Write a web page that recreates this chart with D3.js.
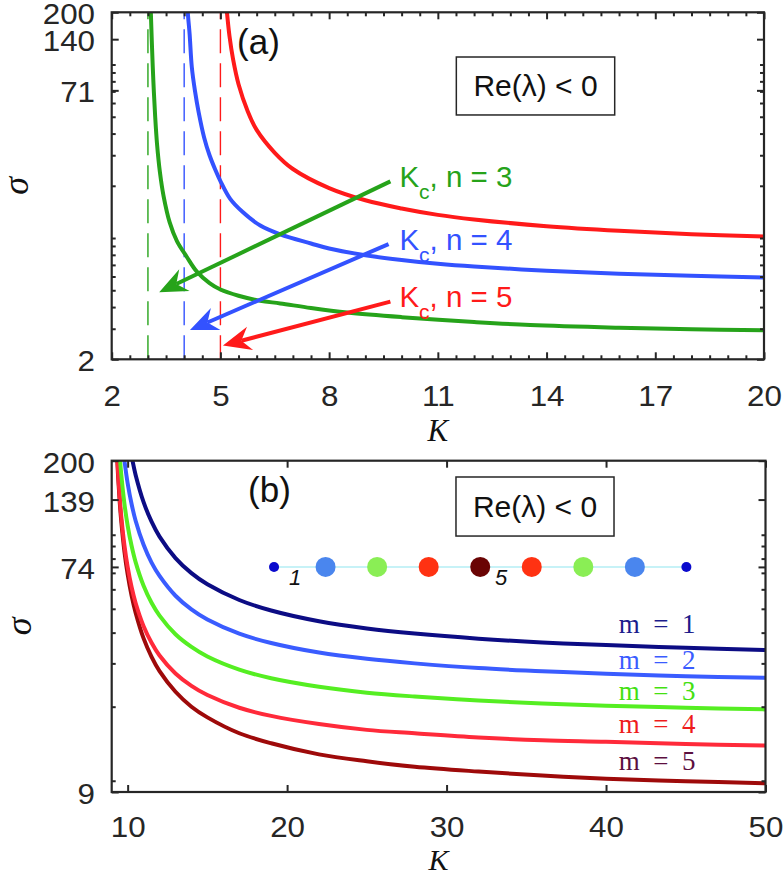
<!DOCTYPE html>
<html><head><meta charset="utf-8">
<script src="https://cdn.jsdelivr.net/npm/d3@7"></script>
<style>
body{margin:0;background:#fff;}
svg{display:block;background:#fff;}
</style></head><body>
<svg id="chart" width="783" height="877"></svg>
<script>
// ---------------- Panel (a) data ----------------
const aXTicks = [2,5,8,11,14,17,20];
const aXMinor = d3.range(2.5,20,0.5).filter(v=>!aXTicks.includes(v));
const aYTicks = [2,71,140,200];
const aYMinor = [3,4,5,6,7,8,9,10,20,30,40,50,60,70,80,90,100];
const aKc = [3,4,5];
const aLabels = ["n = 3","n = 4","n = 5"];
const aK_n3 = [3.06,3.08,3.11,3.15,3.2,3.25,3.33,3.43,3.6,3.8,4.07,4.35,4.7,5.0,5.5,6.1,6.65,7.5,8.5,10,12,13.55,16,18,20];
const aS_n3 = [260,200,130,80,50,35,24,17.5,12.3,9.6,7.8,6.4,5.5,5.05,4.65,4.35,4.2,3.95,3.72,3.5,3.28,3.15,3.04,2.98,2.94];
const aK_n4 = [4.08,4.1,4.15,4.21,4.3,4.4,4.55,4.7,4.85,5.0,5.27,5.6,6.1,6.65,7.5,8,9,10,11,12,14,16,18,20];
const aS_n4 = [260,200,150,97,70,53,38,30,25,21.3,16.8,14.2,11.8,10.5,9.3,8.7,7.96,7.47,7.11,6.85,6.48,6.23,6.06,5.93];
const aK_n5 = [5.16,5.18,5.25,5.35,5.5,5.75,6.0,6.5,7.0,8.0,9.0,10,11,12,14,16,18,20];
const aS_n5 = [225,200,146,107,77,54,42,31,25,19.4,16.5,14.8,13.6,12.8,11.7,11.0,10.5,10.2];
// arrows: [tailK, tailSigma, tipK, tipSigma]
const aArrows = [[9.69,21.2,3.31,4.87],[9.64,9.23,4.16,2.95],[9.69,4.3,5.07,2.4]];
const aLabelPos = [[9.94,19.7],[9.94,8.53],[9.94,4.0]];
const aColors = ["#26a31a","#3352ff","#ff1a1a"];

// ---------------- Panel (b) data ----------------
const bXTicks = [10,20,30,40,50];
const bYTicks = [9,74,139,200];
const bYMinor = [10,20,30,40,50,60,70,80,90,100];
const bNames = ["m = 1","m = 2","m = 3","m = 4","m = 5"];
const bK_m1 = [10.2,10.3,10.5,11,11.5,12,13,14,15,17,19,22,25,28,32,36,40,45,50];
const bS_m1 = [216.8,200.5,175.1,135.7,113,98.3,80.4,69.8,62.9,54.3,49.2,44.5,41.6,39.65,37.8,36.5,35.6,34.7,34.0];
const bK_m2 = [9.7,9.8,10,10.25,10.5,11,11.5,12,13,14,15,17,19,22,25,28,32,36,40,45,50];
const bS_m2 = [227,200,162,133,114,91,77,68,56.5,49.7,45.2,39.6,36.3,33.2,31.3,30.0,28.7,27.9,27.2,26.6,26.2];
const bK_m3 = [9.5,9.6,9.8,10,10.25,10.5,11,11.5,12,13,14,15,17,19,22,25,28,32,36,40,45,50];
const bS_m3 = [211,176,133.5,109,90,77.4,62,52.9,46.9,39.4,35.0,32.0,28.3,26.1,24.1,22.8,22.0,21.2,20.6,20.2,19.8,19.5];
const bK_m4 = [9.3,9.4,9.5,9.6,9.8,10,10.25,10.5,11,11.5,12,13,14,15,17,19,22,25,28,32,36,40,45,50];
const bS_m4 = [246,180,142.5,118.8,90.5,74.1,61.2,52.8,42.5,36.4,32.3,27.3,24.3,22.3,19.8,18.35,17.0,16.1,15.6,15.0,14.6,14.4,14.1,13.9];
const bK_m5 = [9.3,9.4,9.5,9.6,9.8,10,10.25,10.5,11,11.5,12,13,14,15,17,19,22,25,28,32,36,40,45,50];
const bS_m5 = [239,173,136.6,113.3,85.3,69.1,56.4,48.2,37.9,31.9,27.9,23.0,20.0,18.1,15.6,14.2,12.8,12.0,11.4,10.9,10.5,10.2,9.96,9.77];
const bColors = ["#0c0c84","#3a5cff","#55ee22","#ff2a3a","#9e0a0a"];
const bLabelColors = ["#1c1c8c","#3a5cff","#44e011","#ee1c1c","#5c0f3f"];
const bLabelPos = [[43.2,39.7],[43.2,28.4],[43.2,21.3],[43.2,15.6],[43.2,11.07]];
// chain schematic
const chainNodes = [1,2,3,4,5,6,7,8,9];
const chainMode = [1,2,3,4,5,4,3,2,1];
const chainColors = {1:"#0a0acd",2:"#4a86ee",3:"#8aee55",4:"#ff3212",5:"#6a0404"};
const chainRange = [19.18,45.04];
const chainSigma = 74;

// ---------------- drawing ----------------
const svg = d3.select("#chart");
const AX = "#262626";
const SANS = "'Liberation Sans', Arial, Helvetica, sans-serif";
const SERIF = "'Liberation Serif', 'Times New Roman', serif";
const TICKFS = 29;

const pa = {left:111.7, right:764, top:12.3, bottom:359.3};
const pb = {left:111.7, right:765.5, top:460.7, bottom:792};
const xa = d3.scaleLinear().domain([2,20]).range([pa.left,pa.right]);
const ya = d3.scaleLog().domain([2,200]).range([pa.bottom,pa.top]);
const xb = d3.scaleLinear().domain([9,50]).range([pb.left,pb.right]);
const yb = d3.scaleLog().domain([9,200]).range([pb.bottom,pb.top]);

function clip(id, box){
  svg.append("clipPath").attr("id",id).append("rect")
    .attr("x",box.left).attr("y",box.top)
    .attr("width",box.right-box.left).attr("height",box.bottom-box.top);
}
clip("ca",pa); clip("cb",pb);

function styleAxis(g){
  g.select(".domain").remove();
  g.selectAll("line").attr("stroke",AX).attr("stroke-width",2);
  g.selectAll("text").attr("fill",AX).attr("font-size",TICKFS).attr("font-family",SANS)
    .attr("transform","scale(1.08,1)");
}

function frame(box, x, y, xMaj, xMin, yMaj, yMin, xPad, yPad){
  const g = svg.append("g");
  g.append("g").attr("transform",`translate(0,${box.bottom})`)
    .call(d3.axisBottom(x).tickValues(xMaj).tickSize(-7).tickSizeOuter(0).tickPadding(xPad).tickFormat(d3.format("d")))
    .call(styleAxis);
  g.append("g").attr("transform",`translate(0,${box.top})`)
    .call(d3.axisTop(x).tickValues(xMaj).tickSize(-7).tickSizeOuter(0).tickFormat(""))
    .call(styleAxis);
  if (xMin.length){
    g.append("g").attr("transform",`translate(0,${box.bottom})`)
      .call(d3.axisBottom(x).tickValues(xMin).tickSize(-4).tickSizeOuter(0).tickFormat(""))
      .call(styleAxis);
    g.append("g").attr("transform",`translate(0,${box.top})`)
      .call(d3.axisTop(x).tickValues(xMin).tickSize(-4).tickSizeOuter(0).tickFormat(""))
      .call(styleAxis);
  }
  const gl = g.append("g").attr("transform",`translate(${box.left},0)`)
    .call(d3.axisLeft(y).tickValues(yMaj).tickSize(-7).tickSizeOuter(0).tickPadding(yPad).tickFormat(d3.format("d")))
    .call(styleAxis);
  gl.selectAll("text").attr("dy","0.4em");
  g.append("g").attr("transform",`translate(${box.right},0)`)
    .call(d3.axisRight(y).tickValues(yMaj).tickSize(-7).tickSizeOuter(0).tickFormat(""))
    .call(styleAxis);
  g.append("g").attr("transform",`translate(${box.left},0)`)
    .call(d3.axisLeft(y).tickValues(yMin).tickSize(-4).tickSizeOuter(0).tickFormat(""))
    .call(styleAxis);
  g.append("g").attr("transform",`translate(${box.right},0)`)
    .call(d3.axisRight(y).tickValues(yMin).tickSize(-4).tickSizeOuter(0).tickFormat(""))
    .call(styleAxis);
  g.append("rect").attr("x",box.left).attr("y",box.top)
    .attr("width",box.right-box.left).attr("height",box.bottom-box.top)
    .attr("fill","none").attr("stroke",AX).attr("stroke-width",2.2);
}

function zip(a,b){ return a.map((v,i)=>[v,b[i]]); }

// ---------- Panel (a) ----------
const lineA = d3.line().x(d=>xa(d[0])).y(d=>ya(d[1])).curve(d3.curveCatmullRom.alpha(0.5));
const gA = svg.append("g").attr("clip-path","url(#ca)");
aKc.forEach((k,i)=>{
  gA.append("line").attr("x1",xa(k)).attr("x2",xa(k))
    .attr("y1",ya(2)).attr("y2",ya(200))
    .attr("stroke",aColors[i]).attr("stroke-width",1.4)
    .attr("stroke-dasharray","24,10");
});
[zip(aK_n3,aS_n3),zip(aK_n4,aS_n4),zip(aK_n5,aS_n5)].forEach((d,i)=>{
  gA.append("path").datum(d).attr("d",lineA).attr("fill","none")
    .attr("stroke",aColors[i]).attr("stroke-width",4).attr("stroke-linejoin","round");
});

function arrow(g, x0,y0,x1,y1,color){
  const dx=x1-x0, dy=y1-y0, len=Math.hypot(dx,dy), ux=dx/len, uy=dy/len, px=-uy, py=ux;
  const L=28, Wd=12, N=9;
  const bx=x1-L*ux, by=y1-L*uy, nx=x1-(L-N)*ux, ny=y1-(L-N)*uy;
  g.append("line").attr("x1",x0).attr("y1",y0).attr("x2",nx).attr("y2",ny)
    .attr("stroke",color).attr("stroke-width",4);
  g.append("path").attr("d",`M${x1},${y1}L${bx+Wd*px},${by+Wd*py}L${nx},${ny}L${bx-Wd*px},${by-Wd*py}Z`)
    .attr("fill",color);
}
const gAnn = svg.append("g");
aArrows.forEach((a,i)=>arrow(gAnn, xa(a[0]),ya(a[1]),xa(a[2]),ya(a[3]),aColors[i]));
aLabelPos.forEach((p,i)=>{
  const t = gAnn.append("text").attr("x",xa(p[0])).attr("y",ya(p[1]))
    .attr("font-family",SANS).attr("font-size",29.5).attr("fill",aColors[i]);
  t.append("tspan").text("K");
  t.append("tspan").attr("dy",12).attr("font-size",21).text("c");
  t.append("tspan").attr("dy",-12).text(", " + aLabels[i]);
});

function reBox(x,y,k0,k1,s0,s1){
  const x0=x(k0), x1=x(k1), y0=y(s0), y1=y(s1);
  svg.append("rect").attr("x",x0).attr("y",y0).attr("width",x1-x0).attr("height",y1-y0)
    .attr("fill","#fff").attr("stroke",AX).attr("stroke-width",1.5);
  svg.append("text").attr("x",(x0+x1)/2).attr("y",(y0+y1)/2+10)
    .attr("text-anchor","middle").attr("font-family",SANS).attr("font-size",30).attr("fill","#111")
    .text("Re(λ) < 0");
}
reBox(xa,ya,11.51,15.88,110.5,51.2);
svg.append("text").attr("x",xa(5.46)).attr("y",ya(115)).attr("font-family",SANS)
  .attr("font-size",35).attr("fill","#111").text("(a)");

frame(pa, xa, ya, aXTicks, aXMinor, aYTicks, aYMinor, 26, 15.5);

svg.append("text").attr("x",(pa.left+pa.right)/2).attr("y",441)
  .attr("text-anchor","middle").attr("font-family",SERIF).attr("font-style","italic")
  .attr("font-size",31).attr("fill","#111").text("K");
svg.append("text").attr("transform",`translate(28,${(pa.top+pa.bottom)/2}) rotate(-90)`)
  .attr("text-anchor","middle").attr("font-family",SERIF).attr("font-style","italic")
  .attr("font-size",36).attr("fill","#111").text("σ");

// ---------- Panel (b) ----------
const lineB = d3.line().x(d=>xb(d[0])).y(d=>yb(d[1])).curve(d3.curveCatmullRom.alpha(0.5));
const gB = svg.append("g").attr("clip-path","url(#cb)");
[zip(bK_m5,bS_m5),zip(bK_m4,bS_m4),zip(bK_m3,bS_m3),zip(bK_m2,bS_m2),zip(bK_m1,bS_m1)].forEach((d,j)=>{
  const i = 4-j;
  gB.append("path").datum(d).attr("d",lineB).attr("fill","none")
    .attr("stroke",bColors[i]).attr("stroke-width",4).attr("stroke-linejoin","round");
});
bLabelPos.forEach((p,i)=>{
  svg.append("text").attr("x",xb(p[0])).attr("y",yb(p[1]))
    .attr("text-anchor","middle").attr("font-family",SERIF).attr("font-size",27)
    .attr("fill",bLabelColors[i]).style("white-space","pre")
    .text(bNames[i].replace(" = ","  =  "));
});

reBox(xb,yb,30.59,40.5,171.7,98.8);
svg.append("text").attr("x",xb(17.55)).attr("y",yb(135.8)).attr("font-family",SANS)
  .attr("font-size",35).attr("fill","#111").text("(b)");

const cx = d3.scalePoint().domain(chainNodes).range(chainRange.map(xb));
const cy = yb(chainSigma);
svg.append("line").attr("x1",cx(1)).attr("x2",cx(9)).attr("y1",cy).attr("y2",cy)
  .attr("stroke","#b4eef4").attr("stroke-width",1.5);
svg.selectAll("circle.node").data(chainNodes).join("circle").attr("class","node")
  .attr("cx",d=>cx(d)).attr("cy",cy)
  .attr("r",(d,i)=> (i===0||i===chainNodes.length-1)?5:10)
  .attr("fill",(d,i)=>chainColors[chainMode[i]]);
[[1,"1"],[5,"5"]].forEach(([n,lab])=>{
  svg.append("text").attr("x",cx(n)+21).attr("y",cy+18).attr("text-anchor","middle")
    .attr("font-family",SANS).attr("font-style","italic").attr("font-size",22)
    .attr("fill","#111").text(lab);
});

frame(pb, xb, yb, bXTicks, [], bYTicks, bYMinor, 24.5, 15.5);

svg.append("text").attr("x",(pb.left+pb.right)/2).attr("y",870)
  .attr("text-anchor","middle").attr("font-family",SERIF).attr("font-style","italic")
  .attr("font-size",30).attr("fill","#111").text("K");
svg.append("text").attr("transform",`translate(31,${(pb.top+pb.bottom)/2}) rotate(-90)`)
  .attr("text-anchor","middle").attr("font-family",SERIF).attr("font-style","italic")
  .attr("font-size",36).attr("fill","#111").text("σ");
</script>
</body></html>
